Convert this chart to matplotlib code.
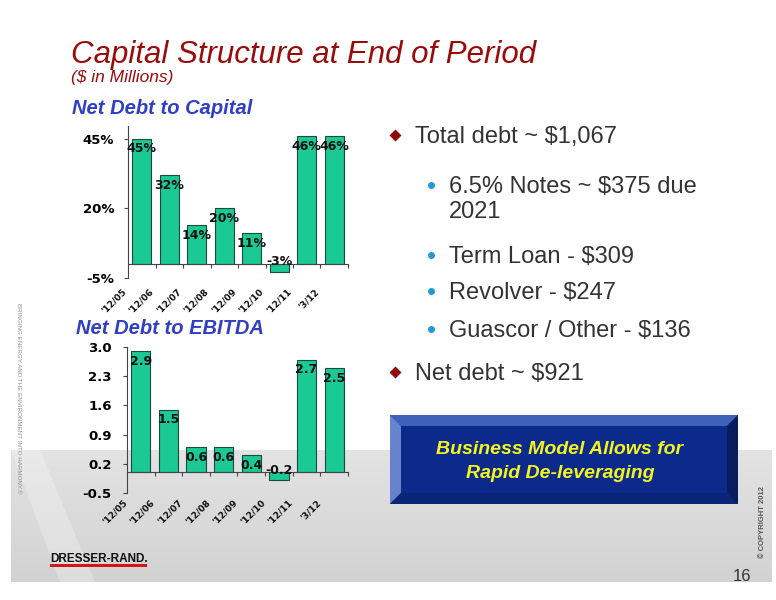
import numpy as np
import matplotlib
matplotlib.use('Agg')
import matplotlib.pyplot as plt
from matplotlib.patches import Polygon, Rectangle
from matplotlib import transforms

plt.rcParams['font.family'] = ['Liberation Sans', 'DejaVu Sans']

# data
periods = ["'12/05", "'12/06", "'12/07", "'12/08", "'12/09", "'12/10", "'12/11", "'3/12"]
debt_to_capital = [45, 32, 14, 20, 11, -3, 46, 46]
debt_to_ebitda = [2.9, 1.5, 0.6, 0.6, 0.4, -0.2, 2.7, 2.5]
capital_ticks = [-5, 20, 45]
ebitda_ticks = [-0.5, 0.2, 0.9, 1.6, 2.3, 3.0]

main_points = ["Total debt ~ $1,067", "Net debt ~ $921"]
sub_points = ["6.5% Notes ~ $375 due\n2021", "Term Loan - $309", "Revolver - $247", "Guascor / Other - $136"]

W, H = 776, 600
BAR = '#1BC995'
EDGE = '#1d4a3a'
RED = '#9a0c0c'
BLUE_T = '#2f3fc6'
GREY_T = '#333333'

fig = plt.figure(figsize=(W / 100, H / 100), dpi=100)
fig.patch.set_facecolor('white')

# background layer in pixel coordinates
bg = fig.add_axes([0, 0, 1, 1], zorder=0)
bg.axis('off')
grad = np.linspace(0, 1, 100).reshape(-1, 1)
bg.imshow(grad, extent=(11, 772, 582, 450), cmap=plt.matplotlib.colors.LinearSegmentedColormap.from_list(
    'g', ['#e3e3e3', '#d2d2d2']), aspect='auto', vmin=0, vmax=1)
bg.add_patch(Polygon([(11, 450), (40, 450), (95, 582), (60, 582)], closed=True,
                     facecolor='white', alpha=0.25, lw=0))
bg.set_xlim(0, W)
bg.set_ylim(H, 0)


def px(x, y):
    return x / W, 1 - y / H


# titles
fig.text(*px(71, 63), 'Capital Structure at End of Period', color=RED, fontsize=22.5,
         style='italic', va='baseline')
fig.text(*px(71, 82), '($ in Millions)', color=RED, fontsize=12.5, style='italic', va='baseline')
fig.text(*px(72, 114), 'Net Debt to Capital', color=BLUE_T, fontsize=14.5, style='italic',
         weight='bold', va='baseline')
fig.text(*px(76, 334), 'Net Debt to EBITDA', color=BLUE_T, fontsize=14.5, style='italic',
         weight='bold', va='baseline')


def bar_panel(rect, values, ticks, ylim, fmt, tick_fmt, lab_shift, tick_pad):
    ax = fig.add_axes(rect, zorder=2)
    ax.patch.set_alpha(0)
    x = np.arange(len(values))
    ax.bar(x, values, width=0.7, color=BAR, edgecolor=EDGE, linewidth=0.8, zorder=2)
    ax.set_xlim(-0.5, len(values) - 0.5)
    ax.set_ylim(*ylim)
    for s in ['top', 'right']:
        ax.spines[s].set_visible(False)
    ax.spines['bottom'].set_position(('data', 0))
    for s in ['left', 'bottom']:
        ax.spines[s].set_color('#444444')
        ax.spines[s].set_linewidth(0.8)
    ax.set_xticks(np.arange(0.5, len(values), 1.0))
    ax.set_xticklabels([])
    ax.tick_params(axis='x', length=3, width=0.8, color='#444444', direction='out')
    ax.set_yticks(ticks)
    ax.set_yticklabels([tick_fmt(t) for t in ticks], family='DejaVu Sans', weight='bold',
                       fontsize=9.5)
    ax.tick_params(axis='y', length=3, width=0.8, color='#444444', pad=tick_pad)
    for i, v in enumerate(values):
        if v >= 0:
            ax.annotate(fmt(v), (i, v), xytext=(0, -7.5), textcoords='offset points',
                        ha='center', va='center', family='DejaVu Sans', weight='bold',
                        fontsize=9, color='#111111', zorder=3)
        else:
            ax.annotate(fmt(v), (i, 0), xytext=(0, 1.5), textcoords='offset points',
                        ha='center', va='center', family='DejaVu Sans', weight='bold',
                        fontsize=9, color='#111111', zorder=3)
    tr = transforms.blended_transform_factory(ax.transData, ax.transAxes) + \
        transforms.ScaledTranslation(lab_shift[0] / 100, lab_shift[1] / 100, fig.dpi_scale_trans)
    for i, p in enumerate(periods):
        ax.text(i, 0, p, transform=tr, rotation=45, ha='right', va='top',
                family='DejaVu Sans', weight='bold', fontsize=6.5, color='#111111')
    return ax


bar_panel([128 / W, 1 - 278 / H, 220 / W, 152 / H], debt_to_capital, capital_ticks, (-5, 49.5),
          lambda v: f'{v}%', lambda t: f'{t}%', (-14, -9), 7)
bar_panel([127 / W, 1 - 493 / H, 221 / W, 146 / H], debt_to_ebitda, ebitda_ticks, (-0.5, 3.0),
          lambda v: f'{v:.1f}', lambda t: f'{t:.1f}', (-12, -5), 8)

# bullet text on the right
main_y = [143, 380]
sub_y = [193, 263, 299, 337]
for txt, y in zip(main_points, main_y):
    bg.plot(395, y - 8.5, marker='D', ms=6, color='#8e0b0b', mec='none')
    bg.text(415, y, txt, fontsize=17, color=GREY_T, va='baseline')
for txt, y in zip(sub_points, sub_y):
    bg.plot(431, y - 8, marker='o', ms=5, color='#1c9bd6', mec='none')
    for k, line in enumerate(txt.split('\n')):
        bg.text(449, y + 25 * k, line, fontsize=17, color=GREY_T, va='baseline')

# bevelled blue box
x0, x1, y0, y1, b = 390, 738, 415, 504, 11
bg.add_patch(Rectangle((x0, y0), x1 - x0, y1 - y0, facecolor='#0b2a8c', lw=0))
bg.add_patch(Polygon([(x0, y0), (x1, y0), (x1 - b, y0 + b), (x0 + b, y0 + b)], facecolor='#3f60b9', lw=0))
bg.add_patch(Polygon([(x0, y0), (x0 + b, y0 + b), (x0 + b, y1 - b), (x0, y1)], facecolor='#6783cb', lw=0))
bg.add_patch(Polygon([(x0, y1), (x0 + b, y1 - b), (x1 - b, y1 - b), (x1, y1)], facecolor='#0a2478', lw=0))
bg.add_patch(Polygon([(x1, y0), (x1 - b, y0 + b), (x1 - b, y1 - b), (x1, y1)], facecolor='#081c5e', lw=0))
bg.text(560, 449, 'Business Model Allows for', color='#f4f41e', fontsize=14,
        weight='bold', style='italic', ha='center', va='center')
bg.text(560, 473, 'Rapid De-leveraging', color='#f4f41e', fontsize=14,
        weight='bold', style='italic', ha='center', va='center')

# footer
bg.text(50, 562, 'DRESSER-RAND.', fontsize=8.5, weight='bold', color='#111111', va='baseline')
bg.add_patch(Rectangle((50, 564), 97, 3, facecolor='#d2141e', lw=0))
bg.text(742, 581, '16', fontsize=12, color=GREY_T, ha='center', va='baseline')
bg.text(763, 522, '\u00a9 COPYRIGHT 2012', fontsize=5.5, weight='bold', color='#555555',
        rotation=90, ha='center', va='center')
bg.text(18, 398, 'BRINGING ENERGY AND THE ENVIRONMENT INTO HARMONY.\u00ae', fontsize=4.5,
        color='#8f8f8f', rotation=-90, ha='center', va='center')

fig.savefig('out.png', dpi=100)
